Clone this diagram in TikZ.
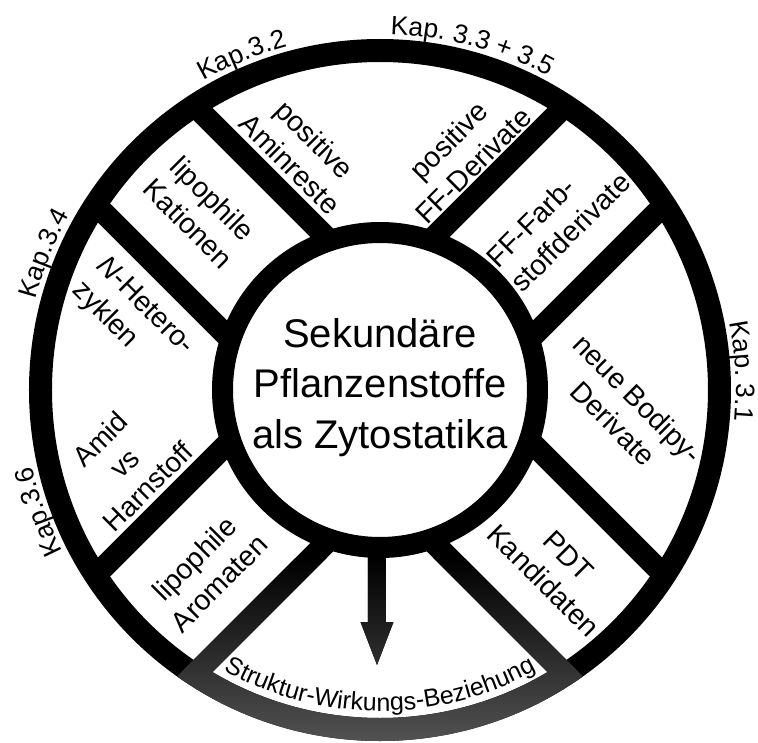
\documentclass[tikz,border=0pt]{standalone}
\usepackage{fontspec}
\setmainfont{Liberation Sans}
\usetikzlibrary{decorations.text}
\tikzset{
  ring/.style={draw=black, line width=23pt},
  core/.style={draw=black, fill=white, line width=21pt},
  spoke/.style={draw=black, line width=22pt},
  lab/.style={font=\fontsize{28.5}{35}\selectfont, align=center, inner sep=0pt},
  labl/.style={lab, align=left},
  labt/.style={lab, font=\fontsize{28}{33.5}\selectfont},
  ctr/.style={font=\fontsize{40}{50.5}\selectfont, align=center, inner sep=0pt},
  kap/.style={decorate, decoration={text along path, text align=center, text={|\kapfont|#1}}},
}
\newcommand\kapfont{\fontsize{26.5}{30}\selectfont}
\newcommand\swfont{\fontsize{25}{28}\selectfont}
\newcommand\gshade{\shade[top color=black,bottom color=black!68] (-400,-168) rectangle (400,-352);}
\begin{document}
\begin{tikzpicture}[x=1pt,y=1pt]
\useasboundingbox (-380,-352) rectangle (378,390);
% outer ring
\draw[ring] (0,0) circle[radius=339.5];
% spokes
\foreach \r in {45,135,225,315}{
  \begin{scope}[rotate=\r]
    \draw[spoke] (138,70) -- (334,70);
    \draw[spoke] (138,-70) -- (334,-70);
  \end{scope}
}
% arrow (black base)
\fill[black] (-12,-150) -- (6,-150) -- (6,-232) -- (13.5,-232) -- (-3,-275) -- (-19.5,-232) -- (-12,-232) -- cycle;
% inner circle
\draw[core] (0,0) circle[radius=157.5];
% gradient in the bottom sector
\begin{scope}
  \clip (0,-83.4) -- (-470,-553.4) -- (470,-553.4) -- cycle;
  \begin{scope}
    \clip (351,0) arc[start angle=0,end angle=360,radius=351] -- (328,0) arc[start angle=360,end angle=0,radius=328] -- cycle;
    \gshade
  \end{scope}
  \begin{scope}
    \clip[rotate=225] (136,59) rectangle (336,81);
    \gshade
  \end{scope}
  \begin{scope}
    \clip[rotate=315] (136,-81) rectangle (336,-59);
    \gshade
  \end{scope}
  \begin{scope}
    \clip (-12,-150) -- (6,-150) -- (6,-232) -- (13.5,-232) -- (-3,-275) -- (-19.5,-232) -- (-12,-232) -- cycle;
    \gshade
  \end{scope}
\end{scope}
% centre text
\node[ctr] (title) at (0,2.75) {Sekundäre\\Pflanzenstoffe\\als Zytostatika};
% sector labels
\node[lab, rotate=-45] (amin) at (-77.5,238.5) {positive\\Aminreste};
\node[lab, rotate=45] (ffpos) at (81,237) {positive\\FF-Derivate};
\node[labl, rotate=45] (ffdye) at (178,170.4) {FF-Farb-\\stoffderivate};
\node[lab, rotate=-45] (bodipy) at (245.75,-21) {neue Bodipy-\\Derivate};
\node[lab, rotate=-45] (pdt) at (175.75,-178.25) {PDT\\Kandidaten};
\node[lab, rotate=45] (arom) at (-173.25,-180.75) {lipophile\\Aromaten};
\node[labt, rotate=45] (amid) at (-256,-73) {Amid\\vs\\Harnstoff};
\node[labl, rotate=-45] (nhet) at (-247.5,71) {\textit{N}-Hetero-\\zyklen};
\node[lab, rotate=-45] (kat) at (-179.25,179) {lipophile\\Kationen};
% chapter labels along the outer ring
\path[kap={Kap.3.2}] (132.4:356) arc[start angle=132.4, end angle=92.4, radius=356];
\path[kap={Kap. 3.3 + 3.5}] (95:356) arc[start angle=95, end angle=55, radius=356];
\path[kap={Kap.3.4}] (177.9:356) arc[start angle=177.9, end angle=137.9, radius=356];
\path[kap={Kap. 3.1}] (23:356) arc[start angle=23, end angle=-17, radius=356];
\path[kap={Kap.3.6}] (219.7:356) arc[start angle=219.7, end angle=179.7, radius=356];
% bottom label
\path[decorate, decoration={text along path, text align=center, text={|\swfont|Struktur-Wirkungs-Beziehung}}] (235:321) arc[start angle=235, end angle=305, radius=321];
\end{tikzpicture}
\end{document}
